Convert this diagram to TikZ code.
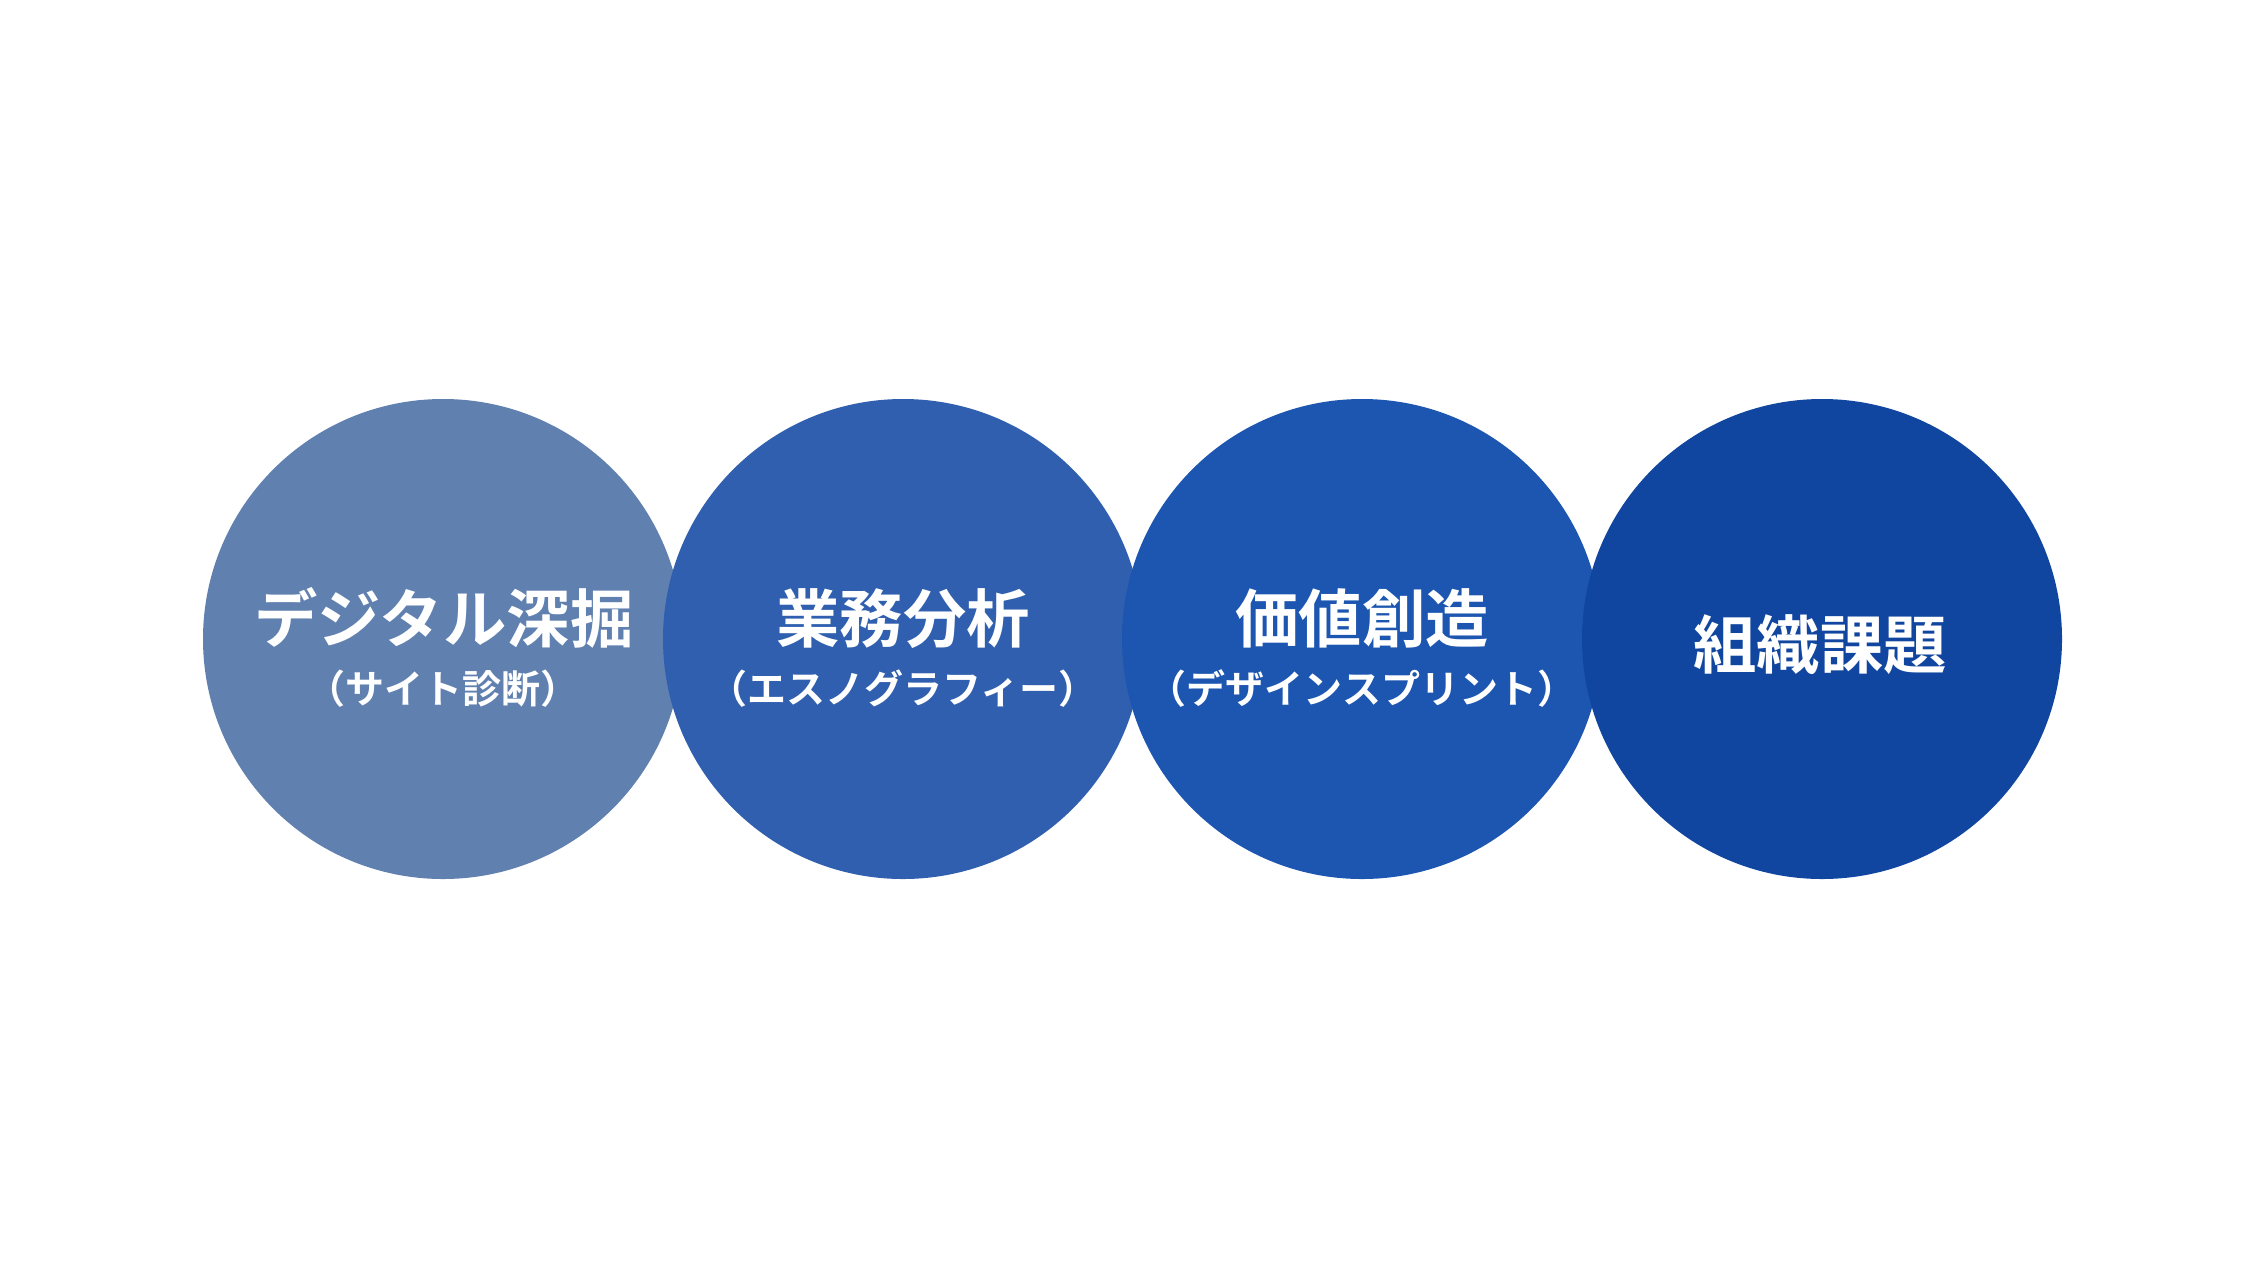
\documentclass[tikz,border=0pt]{standalone}
\usepackage{fontspec}
\newfontfamily\cjk{Noto Sans CJK JP}[BoldFont={Noto Sans CJK JP Bold}]
\definecolor{cA}{RGB}{96,128,176}
\definecolor{cB}{RGB}{47,95,174}
\definecolor{cC}{RGB}{28,86,176}
\definecolor{cD}{RGB}{17,70,160}
\begin{document}
\begin{tikzpicture}[x=0.5pt,y=-0.5pt,
  disc/.style={circle,inner sep=0pt,minimum size=240pt,draw=none},
  maintxt/.style={anchor=base,text=white,inner sep=0pt,font=\cjk\bfseries\fontsize{31.7pt}{31.7pt}\selectfont},
  subtxt/.style={anchor=base,text=white,inner sep=0pt,font=\cjk\bfseries\fontsize{19.5pt}{19.5pt}\selectfont}]
\useasboundingbox (0,0) rectangle (2268,1280);
\fill[white] (0,0) rectangle (2268,1280);
\node[disc,fill=cA] (c1) at (443,639) {};
\node[disc,fill=cB] (c2) at (903,639) {};
\node[disc,fill=cC] (c3) at (1362,639) {};
\node[disc,fill=cD] (c4) at (1822,639) {};
\node[maintxt] (t1) at (444,642) {デジタル深掘};
\node[subtxt] (s1) at (443,703) {（サイト診断）};
\node[maintxt] (t2) at (903,642) {業務分析};
\node[subtxt] (s2) at (903,703) {（エスノグラフィー）};
\node[maintxt] (t3) at (1362,642) {価値創造};
\node[subtxt] (s3) at (1362,703) {（デザインスプリント）};
\node[maintxt] (t4) at (1820,668) {組織課題};
\end{tikzpicture}
\end{document}
